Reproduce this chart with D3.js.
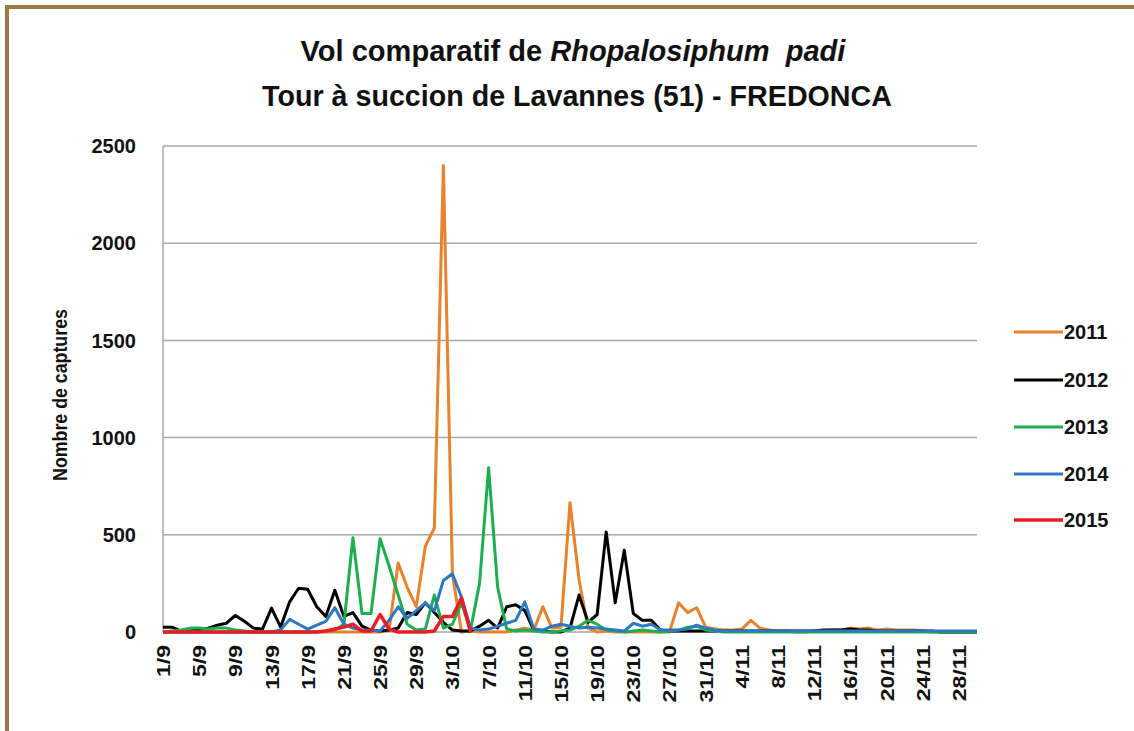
<!DOCTYPE html>
<html>
<head>
<meta charset="utf-8">
<script src="https://cdn.jsdelivr.net/npm/d3@7"></script>
<style>
  body { margin: 0; background: #fff; }
  text { font-family: "Liberation Sans", Arial, sans-serif; font-weight: bold; fill: #111; }
</style>
</head>
<body>
<svg width="1134" height="731"></svg>
<script>
// dates 1/9 .. 30/11, one point per day
var days = d3.timeDay.range(new Date(2015, 8, 1), new Date(2015, 11, 1));
var fmt = d3.timeFormat("%-d/%-m");
var cats = days.map(fmt);

var years = ["2011", "2012", "2013", "2014", "2015"];
var colors = ["#E8822C", "#000000", "#1DAE4F", "#2E78C0", "#EA1C24"];

var y2011 = [0,0,0,0,0,0,0,0,0,0, 0,0,0,0,0,0,0,0,0,0,
  0,0,0,0,0,10,355,230,130,440, 535,2400,300,0,5,0,0,0,0,10,
  20,10,130,20,25,665,270,20,0,5, 0,0,0,0,0,0,0,150,100,125,
  25,15,10,10,15,60,20,10,5,5, 0,0,5,5,10,10,20,15,20,10,
  15,10,10,10,5,0,0,0,0,0, 0];
var y2012 = [25,25,5,5,10,20,35,45,85,55, 20,15,123,25,155,225,220,130,80,215,
  80,100,30,10,5,10,20,100,90,150, 100,50,10,5,5,30,60,20,130,140,
  110,10,5,0,0,20,190,50,90,515, 150,420,95,60,60,10,5,5,5,5,
  5,5,5,5,5,5,5,5,5,5, 5,5,5,10,10,10,15,10,10,5,
  5,5,5,5,5,5,0,0,0,0, 0];
var y2013 = [0,5,10,20,20,15,20,20,10,5, 0,0,0,0,0,0,0,0,5,10,
  40,485,95,95,480,340,190,40,10,15, 190,20,40,150,10,250,845,230,15,5,
  10,5,0,0,5,10,30,60,40,10, 5,0,5,10,5,0,5,10,25,30,
  10,5,0,0,0,0,0,0,0,0, 0,0,0,0,0,0,0,0,0,0,
  0,0,0,0,0,0,0,0,0,0, 0];
var y2014 = [0,0,0,0,0,0,0,0,0,0, 0,0,0,10,65,40,15,35,55,125,
  40,20,10,10,5,60,130,70,110,150, 110,265,300,180,20,10,15,30,45,60,
  155,15,10,30,40,30,20,25,20,15, 10,5,45,30,40,10,10,10,15,35,
  20,10,5,5,5,5,5,5,5,5, 5,5,5,5,5,5,5,5,5,5,
  5,5,5,5,5,5,5,5,5,5, 5];
var y2015 = [0,0,0,0,0,0,0,0,0,0, 0,0,0,0,0,0,0,0,5,15,
  25,40,5,5,90,15,0,0,0,0, 5,80,80,175,0];
var series = [y2011, y2012, y2013, y2014, y2015];

var yTicks = [0, 500, 1000, 1500, 2000, 2500];

var svg = d3.select("svg");

// frame of the picture
svg.append("path")
    .attr("d", "M7,740 L7,7 L1140,7")
    .attr("fill", "none")
    .attr("stroke", "#9A7B42")
    .attr("stroke-width", 4);

var x = d3.scalePoint().domain(cats).range([163, 977]);
var y = d3.scaleLinear().domain([0, 2500]).range([632, 146]);

// gridlines
svg.append("g")
  .selectAll("line")
  .data(yTicks)
  .enter().append("line")
    .attr("x1", 163).attr("x2", 977)
    .attr("y1", function(d) { return y(d); })
    .attr("y2", function(d) { return y(d); })
    .attr("stroke", "#A8A8A8")
    .attr("stroke-width", 1.5);

svg.append("line")
    .attr("x1", 163).attr("x2", 163)
    .attr("y1", y(2500)).attr("y2", y(0))
    .attr("stroke", "#A8A8A8")
    .attr("stroke-width", 1.5);

// y labels
svg.append("g")
  .selectAll("text")
  .data(yTicks)
  .enter().append("text")
    .attr("x", 136)
    .attr("y", function(d) { return y(d); })
    .attr("dy", "0.36em")
    .attr("text-anchor", "end")
    .style("font-size", "20px")
    .text(function(d) { return d; });

// x labels, every 4 days
var xAxis = d3.axisBottom(x)
    .tickValues(cats.filter(function(d, i) { return i % 4 == 0 && i <= 88; }))
    .tickSize(0);

var gx = svg.append("g")
    .attr("transform", "translate(0," + 645 + ")")
    .call(xAxis);
gx.select(".domain").remove();
gx.selectAll("text")
    .attr("y", 0)
    .attr("x", 0)
    .attr("dy", "0.36em")
    .attr("text-anchor", "end")
    .attr("transform", "scale(1,1.28) rotate(-90)")
    .style("font-size", "18px")
    .style("font-family", "Liberation Sans, Arial, sans-serif")
    .style("font-weight", "bold")
    .attr("fill", "#111");

// lines
var line = d3.line()
    .x(function(d, i) { return x(cats[i]); })
    .y(function(d) { return y(d); });

svg.append("g")
  .selectAll("path")
  .data(series)
  .enter().append("path")
    .attr("d", line)
    .attr("fill", "none")
    .attr("stroke", function(d, i) { return colors[i]; })
    .attr("stroke-width", function(d, i) { return i == 4 ? 3.5 : 3; })
    .attr("stroke-linejoin", "round");

// titles
function fit(sel, w) {
  var n = sel.node().getComputedTextLength();
  var cx = +sel.attr("data-cx"), cy = +sel.attr("data-cy");
  sel.attr("x", 0).attr("y", 0)
     .attr("transform", "translate(" + cx + "," + cy + ") scale(" + (w / n) + ",1)");
}

var t1 = svg.append("text")
    .attr("data-cx", 573).attr("data-cy", 61)
    .attr("text-anchor", "middle")
    .style("white-space", "pre")
    .style("font-size", "30px");
t1.append("tspan").text("Vol comparatif de ");
t1.append("tspan").style("font-style", "italic").text("Rhopalosiphum  padi");
fit(t1, 545);

var t2 = svg.append("text")
    .attr("data-cx", 577).attr("data-cy", 106)
    .attr("text-anchor", "middle")
    .style("font-size", "30px")
    .text("Tour à succion de Lavannes (51) - FREDONCA");
fit(t2, 630);

// y axis title
var yt = svg.append("text")
    .attr("text-anchor", "middle")
    .style("font-size", "20px")
    .text("Nombre de captures");
var yn = yt.node().getComputedTextLength();
yt.attr("transform", "translate(67,395) rotate(-90) scale(" + (172 / yn) + ",1)");

// legend
var legY = [332, 380, 427, 474, 520];
var leg = svg.append("g")
  .selectAll("g")
  .data(years)
  .enter().append("g")
    .attr("transform", function(d, i) { return "translate(0," + legY[i] + ")"; });
leg.append("line")
    .attr("x1", 1014).attr("x2", 1063)
    .attr("stroke", function(d, i) { return colors[i]; })
    .attr("stroke-width", function(d, i) { return i == 4 ? 3.5 : 3; });
leg.append("text")
    .attr("x", 1064)
    .attr("dy", "0.36em")
    .style("font-size", "20px")
    .text(function(d) { return d; });
</script>
</body>
</html>
